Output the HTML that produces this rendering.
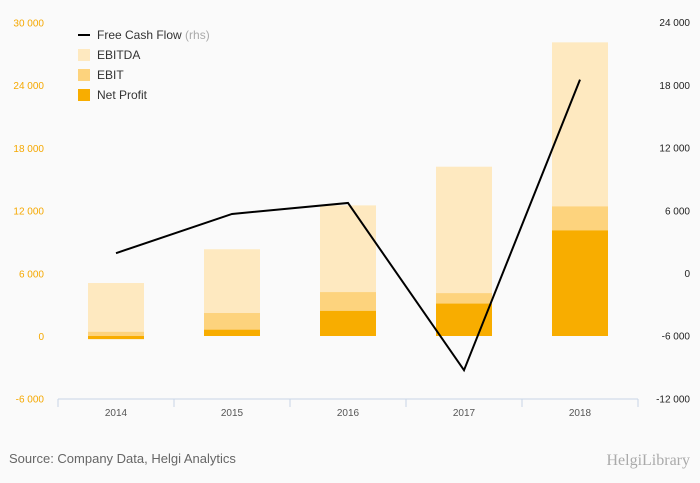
<!DOCTYPE html>
<html><head><meta charset="utf-8"><style>
body{margin:0;background:#fafafa;font-family:"Liberation Sans",sans-serif;}
svg{display:block}
</style></head><body>
<svg id="c" width="700" height="483">
</svg>
<script>
const years=["2014","2015","2016","2017","2018"];
const ebitda=[5070,8300,12500,16200,28100];
const ebit=[400,2200,4200,4100,12400];
const netProfit=[-300,600,2400,3100,10100];
const fcf=[1900,5650,6700,-9300,18500];
const leftTicks=[-6000,0,6000,12000,18000,24000,30000];
const rightTicks=[-12000,-6000,0,6000,12000,18000,24000];
const NS="http://www.w3.org/2000/svg";
const svg=document.getElementById('c');
const yL=v=>336-(v)*62.7/6000;
const yR=v=>273-(v)*62.7/6000;
const xC=i=>116+i*116;
function mk(t,a,p){const e=document.createElementNS(NS,t);for(const k in a)e.setAttribute(k,a[k]);(p||svg).appendChild(e);return e;}
const fmt=v=>{const s=Math.abs(v).toString();const r=s.length>3?s.slice(0,-3)+" "+s.slice(-3):s;return (v<0?"-":"")+r;};
leftTicks.forEach(v=>{const t=mk('text',{x:44,y:yL(v)+4,'text-anchor':'end','font-size':10,fill:'#f5a800'});t.textContent=fmt(v);

});
rightTicks.forEach(v=>{const t=mk('text',{x:690,y:yR(v)+4,'text-anchor':'end','font-size':10,fill:'#222'});t.textContent=fmt(v);

});
const bw=56;
years.forEach((y,i)=>{
 [[ebitda,'#fee9c0','ebitda-bar'],[ebit,'#fdd37d','ebit-bar'],[netProfit,'#f8ad00','net-profit-bar']].forEach(([arr,col,nm])=>{
  const v=arr[i];const y0=yL(Math.max(v,0)),y1=yL(Math.min(v,0));
  const r=mk('rect',{x:xC(i)-bw/2,y:y0,width:bw,height:y1-y0,fill:col});
  
  
 });
 const t=mk('text',{x:xC(i),y:416,'text-anchor':'middle','font-size':10,fill:'#555'});t.textContent=y;
 
 
});
const ax=mk('path',{d:'M58 399H638'+[58,174,290,406,522,638].map(x=>'M'+x+' 399V407').join(''),stroke:'#c8d4e6','stroke-width':1,fill:'none'});


const ln=mk('polyline',{points:fcf.map((v,i)=>xC(i)+','+yR(v)).join(' '),fill:'none',stroke:'#000','stroke-width':2});


const leg=[['line','Free Cash Flow','#000'],['box','EBITDA','#fee9c0'],['box','EBIT','#fdd37d'],['box','Net Profit','#f8ad00']];
leg.forEach((l,i)=>{const g=mk('g',{});
 const y=35+i*20;
 if(l[0]=='line')mk('line',{x1:78,x2:90,y1:y,y2:y,stroke:'#000','stroke-width':2},g);
 else mk('rect',{x:78,y:y-6,width:12,height:12,fill:l[2]},g);
 const t=mk('text',{x:97,y:y+4,'font-size':12,fill:'#333'},g);t.textContent=l[1];
 if(i==0){const s=mk('tspan',{fill:'#aaa'},t);s.textContent=' (rhs)';}
});
const src=mk('text',{x:9,y:463,'font-size':13,fill:'#666'});src.textContent='Source: Company Data, Helgi Analytics';

const lg=mk('text',{x:690,y:465,'text-anchor':'end','font-size':16,fill:'#aaa','font-family':'Liberation Serif, serif'});lg.textContent='HelgiLibrary';

</script>
</body></html>
